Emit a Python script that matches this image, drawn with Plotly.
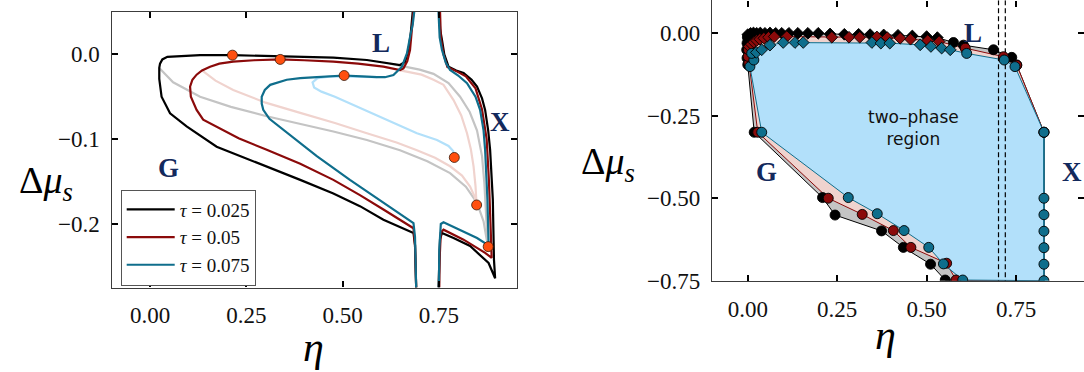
import plotly.graph_objects as go

# ---------------- LEFT PANEL DATA (eta, delta mu_s) ----------------
blk_main_x = [0.682, 0.677, 0.671, 0.662, 0.649, 0.623, 0.563, 0.476, 0.390, 0.300, 0.214, 0.130, 0.070, 0.045, 0.032, 0.026, 0.024, 0.024, 0.030, 0.052, 0.095, 0.173, 0.240, 0.303, 0.390, 0.476, 0.545, 0.606, 0.650, 0.684, 0.688, 0.690, 0.691]
blk_main_y = [0.050, 0.025, 0.005, -0.009, -0.0126, -0.0106, -0.0067, -0.004, -0.003, -0.002, -0.001, -0.001, -0.002, -0.003, -0.006, -0.011, -0.016, -0.029, -0.050, -0.0695, -0.085, -0.109, -0.121, -0.132, -0.148, -0.164, -0.179, -0.195, -0.204, -0.2106, -0.225, -0.250, -0.275]

red_main_x = [0.684, 0.680, 0.675, 0.668, 0.658, 0.649, 0.606, 0.540, 0.476, 0.400, 0.338, 0.270, 0.216, 0.180, 0.156, 0.135, 0.121, 0.110, 0.104, 0.106, 0.121, 0.138, 0.173, 0.230, 0.303, 0.390, 0.476, 0.545, 0.606, 0.650, 0.684, 0.688, 0.690, 0.691]
red_main_y = [0.050, 0.025, 0.005, -0.008, -0.0165, -0.0185, -0.0146, -0.011, -0.0087, -0.007, -0.006, -0.007, -0.0087, -0.011, -0.0146, -0.019, -0.024, -0.030, -0.038, -0.050, -0.0655, -0.077, -0.085, -0.099, -0.1126, -0.129, -0.148, -0.166, -0.183, -0.196, -0.205, -0.225, -0.250, -0.275]

teal_main_x = [0.686, 0.682, 0.677, 0.667, 0.654, 0.640, 0.632, 0.610, 0.589, 0.550, 0.504, 0.433, 0.390, 0.355, 0.330, 0.312, 0.298, 0.290, 0.290, 0.294, 0.310, 0.346, 0.390, 0.433, 0.519, 0.606, 0.650, 0.684, 0.688, 0.690, 0.691]
teal_main_y = [0.050, 0.035, 0.025, 0.001, -0.0146, -0.021, -0.0244, -0.027, -0.027, -0.026, -0.025, -0.027, -0.028, -0.030, -0.033, -0.036, -0.042, -0.050, -0.058, -0.0655, -0.076, -0.089, -0.104, -0.120, -0.148, -0.175, -0.188, -0.199, -0.215, -0.245, -0.275]

blk_x_branch_x = [0.751, 0.753, 0.758, 0.764, 0.775, 0.795, 0.814, 0.835, 0.849, 0.862, 0.870, 0.878, 0.883, 0.890, 0.893, 0.896, 0.879, 0.831, 0.788, 0.758, 0.753, 0.750, 0.749]
blk_x_branch_y = [0.050, 0.030, 0.0168, 0.000, -0.0146, -0.019, -0.022, -0.030, -0.038, -0.052, -0.0655, -0.090, -0.1126, -0.171, -0.242, -0.264, -0.246, -0.226, -0.2165, -0.2106, -0.218, -0.250, -0.275]

red_x_branch_x = [0.753, 0.755, 0.762, 0.772, 0.800, 0.820, 0.845, 0.862, 0.874, 0.880, 0.884, 0.887, 0.870, 0.814, 0.762, 0.755, 0.752, 0.751]
red_x_branch_y = [0.050, 0.020, 0.000, -0.015, -0.021, -0.026, -0.040, -0.065, -0.100, -0.150, -0.200, -0.240, -0.234, -0.2185, -0.2067, -0.210, -0.240, -0.275]

teal_x_branch_x = [0.749, 0.752, 0.758, 0.768, 0.779, 0.800, 0.823, 0.845, 0.857, 0.866, 0.870, 0.876, 0.879, 0.878, 0.849, 0.762, 0.755, 0.751, 0.750]
teal_x_branch_y = [0.050, 0.020, 0.005, -0.010, -0.0185, -0.025, -0.034, -0.050, -0.0655, -0.090, -0.1126, -0.171, -0.2224, -0.225, -0.2165, -0.198, -0.200, -0.230, -0.275]

gray_low_x = [0.024, 0.060, 0.130, 0.210, 0.303, 0.390, 0.476, 0.563, 0.649, 0.720, 0.779, 0.820, 0.849, 0.866, 0.874, 0.877]
gray_low_y = [-0.016, -0.033, -0.050, -0.062, -0.073, -0.082, -0.091, -0.101, -0.113, -0.126, -0.140, -0.156, -0.175, -0.197, -0.218, -0.226]
gray_up_x = [0.623, 0.655, 0.700, 0.736, 0.775, 0.805, 0.830, 0.849, 0.862, 0.868, 0.872, 0.875, 0.877]
gray_up_y = [-0.011, -0.014, -0.018, -0.023, -0.034, -0.050, -0.068, -0.090, -0.120, -0.152, -0.185, -0.212, -0.226]

pink_low_x = [0.135, 0.170, 0.216, 0.300, 0.390, 0.480, 0.563, 0.640, 0.693, 0.740, 0.779, 0.810, 0.831, 0.843, 0.848]
pink_low_y = [-0.019, -0.031, -0.042, -0.057, -0.069, -0.081, -0.093, -0.104, -0.113, -0.122, -0.132, -0.143, -0.156, -0.168, -0.178]
pink_up_x = [0.640, 0.675, 0.705, 0.736, 0.762, 0.788, 0.808, 0.823, 0.833, 0.840, 0.845, 0.848]
pink_up_y = [-0.018, -0.021, -0.024, -0.030, -0.036, -0.054, -0.072, -0.093, -0.112, -0.132, -0.155, -0.178]

lblue_x = [0.590, 0.520, 0.470, 0.435, 0.422, 0.426, 0.445, 0.480, 0.519, 0.571, 0.606, 0.658, 0.693, 0.745, 0.775, 0.787, 0.790]
lblue_y = [-0.027, -0.026, -0.026, -0.028, -0.033, -0.039, -0.044, -0.050, -0.058, -0.069, -0.076, -0.086, -0.093, -0.101, -0.108, -0.114, -0.122]

dots_x = [0.214, 0.338, 0.504, 0.790, 0.848, 0.878]
dots_y = [-0.001, -0.006, -0.025, -0.1216, -0.1776, -0.2267]

tau_labels = ["<i>τ</i> = 0.025", "<i>τ</i> = 0.05", "<i>τ</i> = 0.075"]

# ---------------- RIGHT PANEL DATA ----------------
bl_liq_x = [0.000, 0.008, 0.016, 0.025, 0.035, 0.048, 0.062, 0.078, 0.095, 0.115, 0.140, 0.168, 0.197, 0.230, 0.270, 0.310, 0.342, 0.380, 0.420, 0.460, 0.500, 0.530]
bl_liq_y = [-0.004, 0.000, 0.001, 0.000, 0.001, 0.000, 0.001, 0.000, 0.000, 0.000, 0.000, 0.000, 0.000, -0.002, -0.003, -0.003, -0.004, -0.005, -0.006, -0.008, -0.010, -0.013]
bl_cx = [0.575, 0.603, 0.687, 0.738, 0.752, 0.828]
bl_cy = [-0.028, -0.036, -0.050, -0.073, -0.096, -0.300]
bl_gx = [0.552, 0.511, 0.435, 0.374, 0.244, 0.209, 0.018, 0.000, -0.002, -0.003, -0.002, -0.001]
bl_gy = [-0.748, -0.700, -0.649, -0.599, -0.551, -0.498, -0.300, -0.095, -0.075, -0.050, -0.030, -0.012]

rd_liq_x = [0.004, 0.010, 0.017, 0.025, 0.034, 0.045, 0.058, 0.074, 0.109, 0.235, 0.283, 0.313, 0.361, 0.390, 0.426, 0.455, 0.503, 0.535]
rd_liq_y = [-0.040, -0.033, -0.027, -0.022, -0.018, -0.015, -0.012, -0.010, -0.010, -0.012, -0.012, -0.012, -0.011, -0.013, -0.015, -0.018, -0.022, -0.025]
rd_cx = [0.608, 0.715, 0.752, 0.828]
rd_cy = [-0.045, -0.071, -0.097, -0.300]
rd_gx = [0.582, 0.556, 0.456, 0.407, 0.320, 0.225, 0.028, 0.003, 0.001, 0.002]
rd_gy = [-0.748, -0.697, -0.649, -0.598, -0.549, -0.500, -0.300, -0.090, -0.070, -0.050]

tl_liq_x = [0.024, 0.039, 0.062, 0.099, 0.132, 0.155, 0.347, 0.372, 0.397, 0.482, 0.512, 0.542, 0.566]
tl_liq_y = [-0.058, -0.050, -0.036, -0.028, -0.028, -0.028, -0.028, -0.030, -0.030, -0.035, -0.040, -0.045, -0.050]
tl_cx = [0.612, 0.717, 0.747, 0.828]
tl_cy = [-0.061, -0.081, -0.101, -0.300]
xtal_x = [0.828, 0.828, 0.828, 0.828, 0.828, 0.828]
xtal_y = [-0.50, -0.55, -0.60, -0.65, -0.70, -0.75]
tl_gx = [0.601, 0.547, 0.506, 0.437, 0.362, 0.281, 0.039, 0.006, 0.017, 0.011]
tl_gy = [-0.748, -0.699, -0.649, -0.598, -0.547, -0.498, -0.300, -0.101, -0.081, -0.061]

dash_x = [0.701, 0.720]

# ---------------- STYLE ----------------
BLK, RED, TEAL = "#000000", "#8b0a0a", "#0f6e8c"
GRAY, PINK, LBLUE = "#c4c4c4", "#f0d3ce", "#b2e0fa"
NAVY = "#13295c"
SERIF = "Liberation Serif, DejaVu Serif, serif"

fig = go.Figure()

def line(x, y, color, width=2.2, name=None, show=False, ax=("x", "y")):
    fig.add_trace(go.Scatter(x=x, y=y, mode="lines", line=dict(color=color, width=width),
                             name=name, showlegend=show, xaxis=ax[0], yaxis=ax[1],
                             hoverinfo="skip"))

# light (metastable) curves
line(gray_low_x, gray_low_y, GRAY)
line(gray_up_x, gray_up_y, GRAY)
line(pink_low_x, pink_low_y, PINK)
line(pink_up_x, pink_up_y, PINK)
line(lblue_x, lblue_y, LBLUE)
# main curves
line(blk_main_x, blk_main_y, BLK, name=tau_labels[0], show=True)
line(blk_x_branch_x, blk_x_branch_y, BLK)
line(red_main_x, red_main_y, RED, name=tau_labels[1], show=True)
line(red_x_branch_x, red_x_branch_y, RED)
line(teal_main_x, teal_main_y, TEAL, name=tau_labels[2], show=True)
line(teal_x_branch_x, teal_x_branch_y, TEAL)
fig.add_trace(go.Scatter(x=dots_x, y=dots_y, mode="markers", showlegend=False,
                         marker=dict(size=10, color="#ff4f0f", line=dict(color="#3a1a0a", width=0.8)),
                         xaxis="x", yaxis="y"))

# ---------------- right panel polygons ----------------
def polygon(lx, ly, cx, cy, gx, gy, fillc, linec):
    px = lx + cx + xtal_x[-1:] + gx
    py = ly + cy + xtal_y[-1:] + gy
    fig.add_trace(go.Scatter(x=px + px[:1], y=py + py[:1], mode="lines", fill="toself",
                             fillcolor=fillc, line=dict(color=linec, width=1),
                             showlegend=False, xaxis="x2", yaxis="y2", hoverinfo="skip"))

polygon(bl_liq_x, bl_liq_y, bl_cx, bl_cy, bl_gx, bl_gy, GRAY, BLK)
polygon(rd_liq_x, rd_liq_y, rd_cx, rd_cy, rd_gx, rd_gy, PINK, RED)
polygon(tl_liq_x, tl_liq_y, tl_cx, tl_cy, tl_gx, tl_gy, LBLUE, TEAL)
# crystal line
fig.add_trace(go.Scatter(x=[tl_cx[-1]] + xtal_x, y=[tl_cy[-1]] + xtal_y, mode="lines",
                         line=dict(color=TEAL, width=1.5), showlegend=False, xaxis="x2", yaxis="y2"))
for dx in dash_x:
    fig.add_trace(go.Scatter(x=[dx, dx], y=[0.1, -0.75], mode="lines",
                             line=dict(color="black", width=1.2, dash="5px,3px"),
                             showlegend=False, xaxis="x2", yaxis="y2"))

def markers(x, y, color, symbol, size):
    fig.add_trace(go.Scatter(x=x, y=y, mode="markers", showlegend=False, xaxis="x2", yaxis="y2",
                             marker=dict(symbol=symbol, size=size, color=color,
                                         line=dict(color="black", width=0.9))))

markers(bl_gx + bl_cx, bl_gy + bl_cy, BLK, "circle", 10)
markers(bl_liq_x, bl_liq_y, BLK, "diamond", 9)
markers(rd_gx + rd_cx, rd_gy + rd_cy, RED, "circle", 10)
markers(rd_liq_x, rd_liq_y, RED, "diamond", 9)
markers(tl_gx + tl_cx + xtal_x, tl_gy + tl_cy + xtal_y, TEAL, "circle", 10)
markers(tl_liq_x, tl_liq_y, TEAL, "diamond", 9)

# ---------------- layout ----------------
W, H = 1084, 372
axis_common = dict(showline=True, linecolor="#3c3c3c", linewidth=1.4, mirror="allticks",
                   ticks="inside", ticklen=6, tickwidth=1.5, tickcolor="black",
                   showgrid=False, zeroline=False, automargin=False,
                   tickfont=dict(family=SERIF, size=23, color="#111"))

fig.update_layout(
    width=W, height=H, margin=dict(l=0, r=0, t=0, b=0),
    plot_bgcolor="white", paper_bgcolor="white",
    xaxis=dict(axis_common, domain=[111.5 / W, 516.7 / W], range=[-0.1, 0.952],
               tickvals=[0, 0.25, 0.5, 0.75], tickformat=".2f", anchor="y", ticklabelstandoff=7),
    yaxis=dict(axis_common, domain=[(H - 287.6) / H, (H - 11.9) / H], range=[-0.275, 0.05],
               tickvals=[0, -0.1, -0.2], tickformat=".1f", anchor="x", ticklabelstandoff=6),
    xaxis2=dict(axis_common, domain=[712 / W, 1.0], range=[-0.1, 0.94],
                tickvals=[0, 0.25, 0.5, 0.75], tickformat=".2f", anchor="y2", ticklabelstandoff=7),
    yaxis2=dict(axis_common, domain=[(H - 280.7) / H, (H - 0.3) / H], range=[-0.75, 0.1],
                tickvals=[0, -0.25, -0.5, -0.75], tickformat=".2f", anchor="x2", ticklabelstandoff=6),
    legend=dict(x=120.7 / W, y=(H - 189.5) / H, xanchor="left", yanchor="top",
                bordercolor="#555", borderwidth=1, bgcolor="white", itemwidth=48,
                font=dict(family=SERIF, size=19, color="#111"), tracegroupgap=0),
)

ann = []
def label(text, x, y, xref, yref, size, color="black", bold=False, family=SERIF):
    ann.append(dict(text=f"<b>{text}</b>" if bold else text, x=x, y=y, xref=xref, yref=yref,
                    showarrow=False, font=dict(family=family, size=size, color=color),
                    xanchor="center", yanchor="middle"))

# phase letters
for t, x, y in [("L", 0.599, 0.0133), ("X", 0.909, -0.080), ("G", 0.047, -0.134)]:
    label(t, x, y, "x", "y", 27, NAVY, True)
for t, x, y in [("L", 0.630, 0.001), ("X", 0.907, -0.42), ("G", 0.051, -0.42)]:
    label(t, x, y, "x2", "y2", 27, NAVY, True)
label("two–phase<br>region", 0.462, -0.287, "x2", "y2", 17, "#111", family="DejaVu Sans")

# axis titles
dmu = "Δ<i>μ</i><sub><i>s</i></sub>"
label(dmu, 46 / W, 1 - 183 / H, "paper", "paper", 38)
label(dmu, 608 / W, 1 - 164 / H, "paper", "paper", 38)
label("<i>η</i>", 313 / W, 1 - 347 / H, "paper", "paper", 42)
label("<i>η</i>", 885 / W, 1 - 335 / H, "paper", "paper", 42)
fig.update_layout(annotations=ann)

fig.write_html("out.html")
